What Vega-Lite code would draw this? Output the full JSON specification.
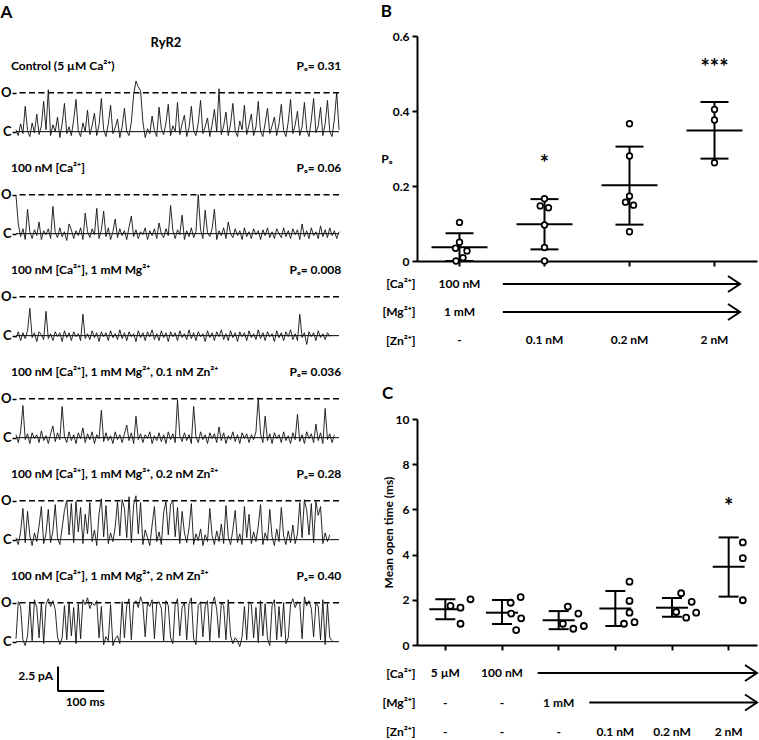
{
"$schema": "https://vega.github.io/schema/vega-lite/v6.json",
"padding": {"left": 0, "top": 3, "right": 0, "bottom": 0},
"background": "white",
"config": {
  "font": "Lato",
  "view": {"stroke": null},
  "axis": {"labelFont": "Lato", "labelFontWeight": "bold", "labelFontSize": 12, "labelColor": "black", "titleFont": "Lato", "titleFontWeight": "bold", "titleFontSize": 12, "titleColor": "black", "domainColor": "black", "tickColor": "black", "grid": false},
  "title": {"font": "Lato", "fontWeight": "bold", "fontSize": 17, "color": "black", "anchor": "start", "frame": "bounds"},
  "text": {"font": "Lato", "fontWeight": "bold", "fontSize": 12, "color": "black"}
},
"datasets": {
  "tr": [
{"c":1,"lab":"Control (5 µM Ca²⁺)","po":"Pₒ= 0.31"},
{"c":2,"lab":"100 nM [Ca²⁺]","po":"Pₒ= 0.06"},
{"c":3,"lab":"100 nM [Ca²⁺], 1 mM Mg²⁺","po":"Pₒ= 0.008"},
{"c":4,"lab":"100 nM [Ca²⁺], 1 mM Mg²⁺, 0.1 nM Zn²⁺","po":"Pₒ= 0.036"},
{"c":5,"lab":"100 nM [Ca²⁺], 1 mM Mg²⁺, 0.2 nM Zn²⁺","po":"Pₒ= 0.28"},
{"c":6,"lab":"100 nM [Ca²⁺], 1 mM Mg²⁺, 2 nM Zn²⁺","po":"Pₒ= 0.40","bar":"2.5 pA","bart":"100 ms"},
{"c":1,"t":0,"i":0.2},{"c":1,"t":5,"i":-0.4},{"c":1,"t":10,"i":0.8},{"c":1,"t":15,"i":-0.2},{"c":1,"t":20,"i":2.6},{"c":1,"t":25,"i":0.1},{"c":1,"t":30,"i":-0.5},{"c":1,"t":35,"i":0.9},{"c":1,"t":40,"i":-0.1},{"c":1,"t":45,"i":1.8},{"c":1,"t":50,"i":-0.3},{"c":1,"t":55,"i":0.6},{"c":1,"t":60,"i":3.1},{"c":1,"t":65,"i":0.2},{"c":1,"t":70,"i":4.3},{"c":1,"t":75,"i":-0.4},{"c":1,"t":80,"i":0.7},{"c":1,"t":85,"i":0.0},{"c":1,"t":90,"i":1.5},{"c":1,"t":95,"i":-0.6},{"c":1,"t":100,"i":0.8},{"c":1,"t":105,"i":2.9},{"c":1,"t":110,"i":-0.2},{"c":1,"t":115,"i":0.5},{"c":1,"t":120,"i":-0.4},{"c":1,"t":125,"i":1.2},{"c":1,"t":130,"i":3.3},{"c":1,"t":135,"i":0.1},{"c":1,"t":140,"i":-0.5},{"c":1,"t":145,"i":0.9},{"c":1,"t":150,"i":0.0},{"c":1,"t":155,"i":2.2},{"c":1,"t":160,"i":-0.3},{"c":1,"t":165,"i":0.6},{"c":1,"t":170,"i":1.9},{"c":1,"t":175,"i":-0.4},{"c":1,"t":180,"i":0.7},{"c":1,"t":185,"i":3.4},{"c":1,"t":190,"i":0.2},{"c":1,"t":195,"i":-0.5},{"c":1,"t":200,"i":0.8},{"c":1,"t":205,"i":2.7},{"c":1,"t":210,"i":-0.2},{"c":1,"t":215,"i":0.4},{"c":1,"t":220,"i":1.3},{"c":1,"t":225,"i":-0.6},{"c":1,"t":230,"i":0.5},{"c":1,"t":235,"i":2.4},{"c":1,"t":240,"i":0.0},{"c":1,"t":245,"i":-0.4},{"c":1,"t":250,"i":1.0},{"c":1,"t":255,"i":3.8},{"c":1,"t":260,"i":5.2},{"c":1,"t":265,"i":4.6},{"c":1,"t":270,"i":4.2},{"c":1,"t":275,"i":1.0},{"c":1,"t":280,"i":-0.6},{"c":1,"t":285,"i":0.3},{"c":1,"t":290,"i":-0.2},{"c":1,"t":295,"i":1.6},{"c":1,"t":300,"i":0.1},{"c":1,"t":305,"i":-0.5},{"c":1,"t":310,"i":2.5},{"c":1,"t":315,"i":0.3},{"c":1,"t":320,"i":-0.3},{"c":1,"t":325,"i":0.9},{"c":1,"t":330,"i":2.8},{"c":1,"t":335,"i":-0.4},{"c":1,"t":340,"i":0.6},{"c":1,"t":345,"i":0.0},{"c":1,"t":350,"i":3.0},{"c":1,"t":355,"i":-0.3},{"c":1,"t":360,"i":0.8},{"c":1,"t":365,"i":1.7},{"c":1,"t":370,"i":-0.5},{"c":1,"t":375,"i":0.4},{"c":1,"t":380,"i":2.6},{"c":1,"t":385,"i":0.1},{"c":1,"t":390,"i":-0.4},{"c":1,"t":395,"i":0.9},{"c":1,"t":400,"i":3.2},{"c":1,"t":405,"i":-0.2},{"c":1,"t":410,"i":0.5},{"c":1,"t":415,"i":1.4},{"c":1,"t":420,"i":-0.5},{"c":1,"t":425,"i":0.7},{"c":1,"t":430,"i":2.3},{"c":1,"t":435,"i":0.0},{"c":1,"t":440,"i":4.4},{"c":1,"t":445,"i":-0.3},{"c":1,"t":450,"i":0.6},{"c":1,"t":455,"i":2.0},{"c":1,"t":460,"i":-0.4},{"c":1,"t":465,"i":0.8},{"c":1,"t":470,"i":2.9},{"c":1,"t":475,"i":0.1},{"c":1,"t":480,"i":-0.5},{"c":1,"t":485,"i":1.1},{"c":1,"t":490,"i":0.2},{"c":1,"t":495,"i":2.7},{"c":1,"t":500,"i":-0.3},{"c":1,"t":505,"i":0.7},{"c":1,"t":510,"i":1.8},{"c":1,"t":515,"i":-0.4},{"c":1,"t":520,"i":0.5},{"c":1,"t":525,"i":3.1},{"c":1,"t":530,"i":0.0},{"c":1,"t":535,"i":-0.5},{"c":1,"t":540,"i":0.9},{"c":1,"t":545,"i":2.4},{"c":1,"t":550,"i":-0.2},{"c":1,"t":555,"i":0.6},{"c":1,"t":560,"i":1.5},{"c":1,"t":565,"i":-0.4},{"c":1,"t":570,"i":0.8},{"c":1,"t":575,"i":2.8},{"c":1,"t":580,"i":0.1},{"c":1,"t":585,"i":-0.5},{"c":1,"t":590,"i":1.0},{"c":1,"t":595,"i":3.3},{"c":1,"t":600,"i":-0.2},{"c":1,"t":605,"i":0.7},{"c":1,"t":610,"i":2.1},{"c":1,"t":615,"i":-0.4},{"c":1,"t":620,"i":0.5},{"c":1,"t":625,"i":3.0},{"c":1,"t":630,"i":0.2},{"c":1,"t":635,"i":-0.5},{"c":1,"t":640,"i":1.2},{"c":1,"t":645,"i":3.4},{"c":1,"t":650,"i":-0.1},{"c":1,"t":655,"i":0.6},{"c":1,"t":660,"i":2.5},{"c":1,"t":665,"i":-0.4},{"c":1,"t":670,"i":0.8},{"c":1,"t":675,"i":3.2},{"c":1,"t":680,"i":0.0},{"c":1,"t":685,"i":-0.5},{"c":1,"t":690,"i":1.3},{"c":1,"t":695,"i":4.0},{"c":1,"t":700,"i":0.2},
{"c":2,"t":0,"i":3.9},{"c":2,"t":5,"i":1.0},{"c":2,"t":10,"i":-0.3},{"c":2,"t":15,"i":0.5},{"c":2,"t":20,"i":-0.6},{"c":2,"t":25,"i":2.5},{"c":2,"t":30,"i":0.2},{"c":2,"t":35,"i":-0.5},{"c":2,"t":40,"i":0.4},{"c":2,"t":45,"i":-0.2},{"c":2,"t":50,"i":1.2},{"c":2,"t":55,"i":-0.6},{"c":2,"t":60,"i":0.3},{"c":2,"t":65,"i":-0.1},{"c":2,"t":70,"i":0.5},{"c":2,"t":75,"i":-0.5},{"c":2,"t":80,"i":2.8},{"c":2,"t":85,"i":0.1},{"c":2,"t":90,"i":-0.4},{"c":2,"t":95,"i":0.6},{"c":2,"t":100,"i":-0.3},{"c":2,"t":105,"i":0.2},{"c":2,"t":110,"i":-0.7},{"c":2,"t":115,"i":1.0},{"c":2,"t":120,"i":0.4},{"c":2,"t":125,"i":-0.5},{"c":2,"t":130,"i":0.3},{"c":2,"t":135,"i":-0.2},{"c":2,"t":140,"i":0.6},{"c":2,"t":145,"i":-0.6},{"c":2,"t":150,"i":2.1},{"c":2,"t":155,"i":0.2},{"c":2,"t":160,"i":-0.4},{"c":2,"t":165,"i":0.5},{"c":2,"t":170,"i":-0.1},{"c":2,"t":175,"i":2.6},{"c":2,"t":180,"i":-0.5},{"c":2,"t":185,"i":0.4},{"c":2,"t":190,"i":2.3},{"c":2,"t":195,"i":-0.3},{"c":2,"t":200,"i":0.6},{"c":2,"t":205,"i":-0.6},{"c":2,"t":210,"i":0.2},{"c":2,"t":215,"i":1.5},{"c":2,"t":220,"i":-0.4},{"c":2,"t":225,"i":0.5},{"c":2,"t":230,"i":-0.2},{"c":2,"t":235,"i":0.3},{"c":2,"t":240,"i":-0.6},{"c":2,"t":245,"i":0.7},{"c":2,"t":250,"i":1.8},{"c":2,"t":255,"i":-0.3},{"c":2,"t":260,"i":0.4},{"c":2,"t":265,"i":-0.5},{"c":2,"t":270,"i":0.2},{"c":2,"t":275,"i":-0.1},{"c":2,"t":280,"i":0.6},{"c":2,"t":285,"i":-0.6},{"c":2,"t":290,"i":0.3},{"c":2,"t":295,"i":-0.2},{"c":2,"t":300,"i":0.5},{"c":2,"t":305,"i":-0.5},{"c":2,"t":310,"i":1.1},{"c":2,"t":315,"i":0.0},{"c":2,"t":320,"i":-0.4},{"c":2,"t":325,"i":0.5},{"c":2,"t":330,"i":-0.2},{"c":2,"t":335,"i":2.9},{"c":2,"t":340,"i":0.3},{"c":2,"t":345,"i":-0.5},{"c":2,"t":350,"i":0.4},{"c":2,"t":355,"i":-0.1},{"c":2,"t":360,"i":1.9},{"c":2,"t":365,"i":-0.6},{"c":2,"t":370,"i":0.3},{"c":2,"t":375,"i":-0.3},{"c":2,"t":380,"i":0.6},{"c":2,"t":385,"i":-0.4},{"c":2,"t":390,"i":0.2},{"c":2,"t":395,"i":4.0},{"c":2,"t":400,"i":0.4},{"c":2,"t":405,"i":-0.5},{"c":2,"t":410,"i":2.4},{"c":2,"t":415,"i":0.1},{"c":2,"t":420,"i":-0.3},{"c":2,"t":425,"i":0.5},{"c":2,"t":430,"i":2.5},{"c":2,"t":435,"i":-0.6},{"c":2,"t":440,"i":0.3},{"c":2,"t":445,"i":-0.2},{"c":2,"t":450,"i":0.6},{"c":2,"t":455,"i":-0.5},{"c":2,"t":460,"i":1.2},{"c":2,"t":465,"i":0.0},{"c":2,"t":470,"i":-0.4},{"c":2,"t":475,"i":0.5},{"c":2,"t":480,"i":-0.2},{"c":2,"t":485,"i":0.3},{"c":2,"t":490,"i":-0.6},{"c":2,"t":495,"i":0.6},{"c":2,"t":500,"i":-0.3},{"c":2,"t":505,"i":0.2},{"c":2,"t":510,"i":-0.5},{"c":2,"t":515,"i":0.5},{"c":2,"t":520,"i":-0.1},{"c":2,"t":525,"i":0.3},{"c":2,"t":530,"i":-0.6},{"c":2,"t":535,"i":0.4},{"c":2,"t":540,"i":-0.2},{"c":2,"t":545,"i":0.6},{"c":2,"t":550,"i":-0.4},{"c":2,"t":555,"i":0.2},{"c":2,"t":560,"i":-0.5},{"c":2,"t":565,"i":0.5},{"c":2,"t":570,"i":0.0},{"c":2,"t":575,"i":-0.4},{"c":2,"t":580,"i":0.6},{"c":2,"t":585,"i":-0.3},{"c":2,"t":590,"i":0.3},{"c":2,"t":595,"i":-0.5},{"c":2,"t":600,"i":0.5},{"c":2,"t":605,"i":-0.1},{"c":2,"t":610,"i":0.4},{"c":2,"t":615,"i":-0.6},{"c":2,"t":620,"i":1.0},{"c":2,"t":625,"i":-0.3},{"c":2,"t":630,"i":0.3},{"c":2,"t":635,"i":-0.5},{"c":2,"t":640,"i":0.6},{"c":2,"t":645,"i":-0.2},{"c":2,"t":650,"i":0.2},{"c":2,"t":655,"i":-0.5},{"c":2,"t":660,"i":0.8},{"c":2,"t":665,"i":-0.3},{"c":2,"t":670,"i":0.4},{"c":2,"t":675,"i":-0.4},{"c":2,"t":680,"i":0.6},{"c":2,"t":685,"i":-0.2},{"c":2,"t":690,"i":0.3},{"c":2,"t":695,"i":-0.5},{"c":2,"t":700,"i":0.2},
{"c":3,"t":0,"i":-0.2},{"c":3,"t":5,"i":0.4},{"c":3,"t":10,"i":-0.5},{"c":3,"t":15,"i":0.3},{"c":3,"t":20,"i":-0.3},{"c":3,"t":25,"i":0.5},{"c":3,"t":30,"i":2.8},{"c":3,"t":35,"i":-0.2},{"c":3,"t":40,"i":0.3},{"c":3,"t":45,"i":-0.6},{"c":3,"t":50,"i":0.4},{"c":3,"t":55,"i":0.1},{"c":3,"t":60,"i":-0.4},{"c":3,"t":65,"i":2.5},{"c":3,"t":70,"i":-0.3},{"c":3,"t":75,"i":0.2},{"c":3,"t":80,"i":-0.5},{"c":3,"t":85,"i":0.4},{"c":3,"t":90,"i":-0.1},{"c":3,"t":95,"i":0.3},{"c":3,"t":100,"i":-0.6},{"c":3,"t":105,"i":0.5},{"c":3,"t":110,"i":-0.2},{"c":3,"t":115,"i":0.3},{"c":3,"t":120,"i":-0.5},{"c":3,"t":125,"i":0.4},{"c":3,"t":130,"i":-0.1},{"c":3,"t":135,"i":0.2},{"c":3,"t":140,"i":-0.5},{"c":3,"t":145,"i":2.2},{"c":3,"t":150,"i":-0.3},{"c":3,"t":155,"i":0.2},{"c":3,"t":160,"i":-0.4},{"c":3,"t":165,"i":0.5},{"c":3,"t":170,"i":-0.2},{"c":3,"t":175,"i":0.3},{"c":3,"t":180,"i":-0.6},{"c":3,"t":185,"i":0.4},{"c":3,"t":190,"i":-0.1},{"c":3,"t":195,"i":0.3},{"c":3,"t":200,"i":-0.5},{"c":3,"t":205,"i":0.5},{"c":3,"t":210,"i":-0.2},{"c":3,"t":215,"i":0.2},{"c":3,"t":220,"i":-0.4},{"c":3,"t":225,"i":0.6},{"c":3,"t":230,"i":-0.3},{"c":3,"t":235,"i":0.3},{"c":3,"t":240,"i":-0.5},{"c":3,"t":245,"i":0.4},{"c":3,"t":250,"i":-0.1},{"c":3,"t":255,"i":0.2},{"c":3,"t":260,"i":-0.6},{"c":3,"t":265,"i":0.5},{"c":3,"t":270,"i":-0.2},{"c":3,"t":275,"i":0.3},{"c":3,"t":280,"i":-0.5},{"c":3,"t":285,"i":0.4},{"c":3,"t":290,"i":-0.1},{"c":3,"t":295,"i":0.6},{"c":3,"t":300,"i":-0.4},{"c":3,"t":305,"i":0.2},{"c":3,"t":310,"i":-0.5},{"c":3,"t":315,"i":0.5},{"c":3,"t":320,"i":-0.2},{"c":3,"t":325,"i":0.3},{"c":3,"t":330,"i":-0.6},{"c":3,"t":335,"i":0.4},{"c":3,"t":340,"i":-0.1},{"c":3,"t":345,"i":0.3},{"c":3,"t":350,"i":-0.5},{"c":3,"t":355,"i":0.5},{"c":3,"t":360,"i":-0.2},{"c":3,"t":365,"i":0.2},{"c":3,"t":370,"i":-0.4},{"c":3,"t":375,"i":0.6},{"c":3,"t":380,"i":-0.3},{"c":3,"t":385,"i":0.3},{"c":3,"t":390,"i":-0.5},{"c":3,"t":395,"i":0.4},{"c":3,"t":400,"i":-0.1},{"c":3,"t":405,"i":0.2},{"c":3,"t":410,"i":-0.6},{"c":3,"t":415,"i":0.5},{"c":3,"t":420,"i":-0.2},{"c":3,"t":425,"i":0.3},{"c":3,"t":430,"i":-0.5},{"c":3,"t":435,"i":0.4},{"c":3,"t":440,"i":-0.1},{"c":3,"t":445,"i":0.6},{"c":3,"t":450,"i":-0.4},{"c":3,"t":455,"i":0.2},{"c":3,"t":460,"i":-0.5},{"c":3,"t":465,"i":0.5},{"c":3,"t":470,"i":-0.2},{"c":3,"t":475,"i":0.3},{"c":3,"t":480,"i":-0.6},{"c":3,"t":485,"i":0.4},{"c":3,"t":490,"i":-0.1},{"c":3,"t":495,"i":0.3},{"c":3,"t":500,"i":-0.5},{"c":3,"t":505,"i":0.5},{"c":3,"t":510,"i":-0.2},{"c":3,"t":515,"i":0.2},{"c":3,"t":520,"i":-0.4},{"c":3,"t":525,"i":0.6},{"c":3,"t":530,"i":-0.3},{"c":3,"t":535,"i":0.3},{"c":3,"t":540,"i":-0.5},{"c":3,"t":545,"i":0.4},{"c":3,"t":550,"i":-0.1},{"c":3,"t":555,"i":0.2},{"c":3,"t":560,"i":-0.6},{"c":3,"t":565,"i":0.5},{"c":3,"t":570,"i":-0.2},{"c":3,"t":575,"i":0.3},{"c":3,"t":580,"i":-0.5},{"c":3,"t":585,"i":0.4},{"c":3,"t":590,"i":-0.1},{"c":3,"t":595,"i":0.6},{"c":3,"t":600,"i":-0.4},{"c":3,"t":605,"i":0.2},{"c":3,"t":610,"i":-0.5},{"c":3,"t":615,"i":2.2},{"c":3,"t":620,"i":-0.2},{"c":3,"t":625,"i":0.3},{"c":3,"t":630,"i":-0.9},{"c":3,"t":635,"i":0.4},{"c":3,"t":640,"i":-0.1},{"c":3,"t":645,"i":0.3},{"c":3,"t":650,"i":-0.5},{"c":3,"t":655,"i":0.5},{"c":3,"t":660,"i":-0.2},{"c":3,"t":665,"i":0.2},{"c":3,"t":670,"i":-0.4},{"c":3,"t":675,"i":0.3},{"c":3,"t":680,"i":-0.1},
{"c":4,"t":0,"i":0.3},{"c":4,"t":5,"i":-0.5},{"c":4,"t":10,"i":0.6},{"c":4,"t":15,"i":3.3},{"c":4,"t":20,"i":-0.2},{"c":4,"t":25,"i":0.4},{"c":4,"t":30,"i":-0.6},{"c":4,"t":35,"i":0.5},{"c":4,"t":40,"i":-0.1},{"c":4,"t":45,"i":0.3},{"c":4,"t":50,"i":-0.5},{"c":4,"t":55,"i":0.7},{"c":4,"t":60,"i":-0.3},{"c":4,"t":65,"i":0.2},{"c":4,"t":70,"i":-0.6},{"c":4,"t":75,"i":0.4},{"c":4,"t":80,"i":1.2},{"c":4,"t":85,"i":-0.4},{"c":4,"t":90,"i":0.5},{"c":4,"t":95,"i":-0.2},{"c":4,"t":100,"i":3.2},{"c":4,"t":105,"i":0.1},{"c":4,"t":110,"i":-0.5},{"c":4,"t":115,"i":0.6},{"c":4,"t":120,"i":-0.3},{"c":4,"t":125,"i":0.3},{"c":4,"t":130,"i":-0.6},{"c":4,"t":135,"i":0.5},{"c":4,"t":140,"i":-0.1},{"c":4,"t":145,"i":1.0},{"c":4,"t":150,"i":-0.5},{"c":4,"t":155,"i":0.4},{"c":4,"t":160,"i":-0.2},{"c":4,"t":165,"i":0.6},{"c":4,"t":170,"i":-0.6},{"c":4,"t":175,"i":0.3},{"c":4,"t":180,"i":-0.1},{"c":4,"t":185,"i":2.8},{"c":4,"t":190,"i":-0.4},{"c":4,"t":195,"i":0.5},{"c":4,"t":200,"i":-0.3},{"c":4,"t":205,"i":0.2},{"c":4,"t":210,"i":-0.6},{"c":4,"t":215,"i":0.6},{"c":4,"t":220,"i":-0.2},{"c":4,"t":225,"i":0.3},{"c":4,"t":230,"i":-0.5},{"c":4,"t":235,"i":0.4},{"c":4,"t":240,"i":1.3},{"c":4,"t":245,"i":-0.3},{"c":4,"t":250,"i":0.5},{"c":4,"t":255,"i":-0.6},{"c":4,"t":260,"i":2.2},{"c":4,"t":265,"i":-0.2},{"c":4,"t":270,"i":0.4},{"c":4,"t":275,"i":-0.5},{"c":4,"t":280,"i":0.3},{"c":4,"t":285,"i":-0.1},{"c":4,"t":290,"i":0.6},{"c":4,"t":295,"i":-0.6},{"c":4,"t":300,"i":0.2},{"c":4,"t":305,"i":-0.3},{"c":4,"t":310,"i":0.5},{"c":4,"t":315,"i":-0.4},{"c":4,"t":320,"i":0.3},{"c":4,"t":325,"i":-0.6},{"c":4,"t":330,"i":0.6},{"c":4,"t":335,"i":-0.2},{"c":4,"t":340,"i":0.4},{"c":4,"t":345,"i":-0.5},{"c":4,"t":350,"i":3.9},{"c":4,"t":355,"i":0.2},{"c":4,"t":360,"i":-0.4},{"c":4,"t":365,"i":0.5},{"c":4,"t":370,"i":-0.3},{"c":4,"t":375,"i":0.3},{"c":4,"t":380,"i":-0.6},{"c":4,"t":385,"i":3.2},{"c":4,"t":390,"i":0.1},{"c":4,"t":395,"i":-0.5},{"c":4,"t":400,"i":0.6},{"c":4,"t":405,"i":-0.2},{"c":4,"t":410,"i":0.3},{"c":4,"t":415,"i":-0.6},{"c":4,"t":420,"i":0.5},{"c":4,"t":425,"i":-0.1},{"c":4,"t":430,"i":0.4},{"c":4,"t":435,"i":-0.5},{"c":4,"t":440,"i":1.1},{"c":4,"t":445,"i":-0.3},{"c":4,"t":450,"i":0.5},{"c":4,"t":455,"i":-0.6},{"c":4,"t":460,"i":0.2},{"c":4,"t":465,"i":-0.2},{"c":4,"t":470,"i":0.6},{"c":4,"t":475,"i":-0.4},{"c":4,"t":480,"i":0.3},{"c":4,"t":485,"i":-0.6},{"c":4,"t":490,"i":0.5},{"c":4,"t":495,"i":-0.1},{"c":4,"t":500,"i":0.4},{"c":4,"t":505,"i":-0.5},{"c":4,"t":510,"i":0.3},{"c":4,"t":515,"i":-0.2},{"c":4,"t":520,"i":0.6},{"c":4,"t":525,"i":4.1},{"c":4,"t":530,"i":0.4},{"c":4,"t":535,"i":-0.5},{"c":4,"t":540,"i":2.2},{"c":4,"t":545,"i":-0.3},{"c":4,"t":550,"i":0.4},{"c":4,"t":555,"i":-0.6},{"c":4,"t":560,"i":0.5},{"c":4,"t":565,"i":-0.1},{"c":4,"t":570,"i":0.3},{"c":4,"t":575,"i":-0.5},{"c":4,"t":580,"i":0.6},{"c":4,"t":585,"i":-0.3},{"c":4,"t":590,"i":0.2},{"c":4,"t":595,"i":-0.6},{"c":4,"t":600,"i":0.5},{"c":4,"t":605,"i":-0.2},{"c":4,"t":610,"i":2.4},{"c":4,"t":615,"i":-0.4},{"c":4,"t":620,"i":0.3},{"c":4,"t":625,"i":-0.6},{"c":4,"t":630,"i":0.6},{"c":4,"t":635,"i":-0.1},{"c":4,"t":640,"i":0.4},{"c":4,"t":645,"i":-0.5},{"c":4,"t":650,"i":1.4},{"c":4,"t":655,"i":-0.3},{"c":4,"t":660,"i":0.5},{"c":4,"t":665,"i":-0.6},{"c":4,"t":670,"i":3.0},{"c":4,"t":675,"i":-0.2},{"c":4,"t":680,"i":0.4},{"c":4,"t":685,"i":-0.5},{"c":4,"t":690,"i":0.3},
{"c":5,"t":0,"i":0.2},{"c":5,"t":5,"i":-0.5},{"c":5,"t":10,"i":0.8},{"c":5,"t":15,"i":3.2},{"c":5,"t":20,"i":-0.3},{"c":5,"t":25,"i":2.9},{"c":5,"t":30,"i":0.4},{"c":5,"t":35,"i":-0.6},{"c":5,"t":40,"i":0.7},{"c":5,"t":45,"i":-0.2},{"c":5,"t":50,"i":1.4},{"c":5,"t":55,"i":3.4},{"c":5,"t":60,"i":-0.4},{"c":5,"t":65,"i":0.6},{"c":5,"t":70,"i":3.1},{"c":5,"t":75,"i":-0.3},{"c":5,"t":80,"i":0.9},{"c":5,"t":85,"i":3.6},{"c":5,"t":90,"i":0.2},{"c":5,"t":95,"i":-0.5},{"c":5,"t":100,"i":1.2},{"c":5,"t":105,"i":3.0},{"c":5,"t":110,"i":4.0},{"c":5,"t":115,"i":0.5},{"c":5,"t":120,"i":3.7},{"c":5,"t":125,"i":-0.3},{"c":5,"t":130,"i":3.9},{"c":5,"t":135,"i":0.8},{"c":5,"t":140,"i":3.3},{"c":5,"t":145,"i":-0.4},{"c":5,"t":150,"i":2.6},{"c":5,"t":155,"i":0.6},{"c":5,"t":160,"i":3.8},{"c":5,"t":165,"i":-0.2},{"c":5,"t":170,"i":1.0},{"c":5,"t":175,"i":-0.6},{"c":5,"t":180,"i":2.7},{"c":5,"t":185,"i":4.2},{"c":5,"t":190,"i":0.3},{"c":5,"t":195,"i":3.5},{"c":5,"t":200,"i":-0.4},{"c":5,"t":205,"i":0.7},{"c":5,"t":210,"i":-0.2},{"c":5,"t":215,"i":1.3},{"c":5,"t":220,"i":3.9},{"c":5,"t":225,"i":0.4},{"c":5,"t":230,"i":4.1},{"c":5,"t":235,"i":3.2},{"c":5,"t":240,"i":0.2},{"c":5,"t":245,"i":4.4},{"c":5,"t":250,"i":-0.3},{"c":5,"t":255,"i":3.6},{"c":5,"t":260,"i":4.5},{"c":5,"t":265,"i":0.6},{"c":5,"t":270,"i":3.8},{"c":5,"t":275,"i":-0.5},{"c":5,"t":280,"i":1.0},{"c":5,"t":285,"i":0.2},{"c":5,"t":290,"i":-0.6},{"c":5,"t":295,"i":1.5},{"c":5,"t":300,"i":3.4},{"c":5,"t":305,"i":-0.2},{"c":5,"t":310,"i":0.8},{"c":5,"t":315,"i":-0.5},{"c":5,"t":320,"i":2.8},{"c":5,"t":325,"i":3.9},{"c":5,"t":330,"i":0.5},{"c":5,"t":335,"i":3.6},{"c":5,"t":340,"i":4.0},{"c":5,"t":345,"i":0.3},{"c":5,"t":350,"i":3.3},{"c":5,"t":355,"i":-0.4},{"c":5,"t":360,"i":2.9},{"c":5,"t":365,"i":0.7},{"c":5,"t":370,"i":-0.3},{"c":5,"t":375,"i":1.2},{"c":5,"t":380,"i":3.7},{"c":5,"t":385,"i":-0.5},{"c":5,"t":390,"i":0.6},{"c":5,"t":395,"i":-0.1},{"c":5,"t":400,"i":1.1},{"c":5,"t":405,"i":-0.6},{"c":5,"t":410,"i":0.5},{"c":5,"t":415,"i":-0.2},{"c":5,"t":420,"i":3.2},{"c":5,"t":425,"i":0.4},{"c":5,"t":430,"i":-0.5},{"c":5,"t":435,"i":0.9},{"c":5,"t":440,"i":-0.2},{"c":5,"t":445,"i":1.6},{"c":5,"t":450,"i":-0.4},{"c":5,"t":455,"i":3.5},{"c":5,"t":460,"i":0.3},{"c":5,"t":465,"i":-0.5},{"c":5,"t":470,"i":1.0},{"c":5,"t":475,"i":3.0},{"c":5,"t":480,"i":-0.3},{"c":5,"t":485,"i":0.6},{"c":5,"t":490,"i":-0.5},{"c":5,"t":495,"i":3.4},{"c":5,"t":500,"i":0.2},{"c":5,"t":505,"i":2.6},{"c":5,"t":510,"i":-0.4},{"c":5,"t":515,"i":0.8},{"c":5,"t":520,"i":-0.2},{"c":5,"t":525,"i":1.4},{"c":5,"t":530,"i":3.6},{"c":5,"t":535,"i":-0.5},{"c":5,"t":540,"i":0.7},{"c":5,"t":545,"i":-0.1},{"c":5,"t":550,"i":3.1},{"c":5,"t":555,"i":0.3},{"c":5,"t":560,"i":-0.6},{"c":5,"t":565,"i":1.1},{"c":5,"t":570,"i":-0.2},{"c":5,"t":575,"i":3.3},{"c":5,"t":580,"i":0.4},{"c":5,"t":585,"i":-0.5},{"c":5,"t":590,"i":0.9},{"c":5,"t":595,"i":-0.3},{"c":5,"t":600,"i":1.5},{"c":5,"t":605,"i":-0.4},{"c":5,"t":610,"i":0.6},{"c":5,"t":615,"i":3.8},{"c":5,"t":620,"i":0.2},{"c":5,"t":625,"i":4.1},{"c":5,"t":630,"i":3.0},{"c":5,"t":635,"i":0.5},{"c":5,"t":640,"i":3.7},{"c":5,"t":645,"i":-0.3},{"c":5,"t":650,"i":3.9},{"c":5,"t":655,"i":2.5},{"c":5,"t":660,"i":3.4},{"c":5,"t":665,"i":-0.4},{"c":5,"t":670,"i":0.7},{"c":5,"t":675,"i":-0.2},{"c":5,"t":680,"i":0.5},
{"c":6,"t":0,"i":0.3},{"c":6,"t":5,"i":4.1},{"c":6,"t":10,"i":3.6},{"c":6,"t":15,"i":0.2},{"c":6,"t":20,"i":-0.4},{"c":6,"t":25,"i":0.6},{"c":6,"t":30,"i":3.9},{"c":6,"t":35,"i":0.1},{"c":6,"t":40,"i":4.3},{"c":6,"t":45,"i":3.5},{"c":6,"t":50,"i":0.4},{"c":6,"t":55,"i":4.0},{"c":6,"t":60,"i":-0.2},{"c":6,"t":65,"i":3.8},{"c":6,"t":70,"i":4.4},{"c":6,"t":75,"i":3.6},{"c":6,"t":80,"i":4.2},{"c":6,"t":85,"i":3.3},{"c":6,"t":90,"i":0.5},{"c":6,"t":95,"i":-0.3},{"c":6,"t":100,"i":0.4},{"c":6,"t":105,"i":3.7},{"c":6,"t":110,"i":0.2},{"c":6,"t":115,"i":4.1},{"c":6,"t":120,"i":0.6},{"c":6,"t":125,"i":3.5},{"c":6,"t":130,"i":-0.2},{"c":6,"t":135,"i":3.9},{"c":6,"t":140,"i":0.3},{"c":6,"t":145,"i":4.3},{"c":6,"t":150,"i":3.8},{"c":6,"t":155,"i":4.5},{"c":6,"t":160,"i":3.4},{"c":6,"t":165,"i":4.0},{"c":6,"t":170,"i":3.7},{"c":6,"t":175,"i":4.2},{"c":6,"t":180,"i":0.4},{"c":6,"t":185,"i":3.6},{"c":6,"t":190,"i":-0.3},{"c":6,"t":195,"i":0.5},{"c":6,"t":200,"i":0.1},{"c":6,"t":205,"i":3.8},{"c":6,"t":210,"i":-0.4},{"c":6,"t":215,"i":0.3},{"c":6,"t":220,"i":0.6},{"c":6,"t":225,"i":-0.2},{"c":6,"t":230,"i":4.1},{"c":6,"t":235,"i":0.4},{"c":6,"t":240,"i":3.7},{"c":6,"t":245,"i":4.4},{"c":6,"t":250,"i":0.2},{"c":6,"t":255,"i":3.9},{"c":6,"t":260,"i":4.2},{"c":6,"t":265,"i":3.5},{"c":6,"t":270,"i":4.6},{"c":6,"t":275,"i":3.8},{"c":6,"t":280,"i":0.5},{"c":6,"t":285,"i":4.0},{"c":6,"t":290,"i":3.6},{"c":6,"t":295,"i":4.3},{"c":6,"t":300,"i":0.3},{"c":6,"t":305,"i":3.9},{"c":6,"t":310,"i":4.1},{"c":6,"t":315,"i":3.4},{"c":6,"t":320,"i":0.1},{"c":6,"t":325,"i":4.2},{"c":6,"t":330,"i":3.7},{"c":6,"t":335,"i":0.4},{"c":6,"t":340,"i":-0.2},{"c":6,"t":345,"i":3.8},{"c":6,"t":350,"i":4.4},{"c":6,"t":355,"i":0.6},{"c":6,"t":360,"i":3.5},{"c":6,"t":365,"i":4.0},{"c":6,"t":370,"i":0.2},{"c":6,"t":375,"i":3.9},{"c":6,"t":380,"i":4.5},{"c":6,"t":385,"i":0.3},{"c":6,"t":390,"i":-0.3},{"c":6,"t":395,"i":3.7},{"c":6,"t":400,"i":4.1},{"c":6,"t":405,"i":0.5},{"c":6,"t":410,"i":3.6},{"c":6,"t":415,"i":4.2},{"c":6,"t":420,"i":0.1},{"c":6,"t":425,"i":3.8},{"c":6,"t":430,"i":4.6},{"c":6,"t":435,"i":3.3},{"c":6,"t":440,"i":0.4},{"c":6,"t":445,"i":4.0},{"c":6,"t":450,"i":3.7},{"c":6,"t":455,"i":0.2},{"c":6,"t":460,"i":4.3},{"c":6,"t":465,"i":0.6},{"c":6,"t":470,"i":-0.2},{"c":6,"t":475,"i":0.4},{"c":6,"t":480,"i":0.1},{"c":6,"t":485,"i":-0.5},{"c":6,"t":490,"i":0.5},{"c":6,"t":495,"i":3.6},{"c":6,"t":500,"i":0.2},{"c":6,"t":505,"i":4.1},{"c":6,"t":510,"i":3.8},{"c":6,"t":515,"i":0.4},{"c":6,"t":520,"i":3.5},{"c":6,"t":525,"i":-0.1},{"c":6,"t":530,"i":4.2},{"c":6,"t":535,"i":0.6},{"c":6,"t":540,"i":3.9},{"c":6,"t":545,"i":0.3},{"c":6,"t":550,"i":-0.4},{"c":6,"t":555,"i":3.7},{"c":6,"t":560,"i":4.3},{"c":6,"t":565,"i":0.2},{"c":6,"t":570,"i":3.6},{"c":6,"t":575,"i":0.5},{"c":6,"t":580,"i":4.0},{"c":6,"t":585,"i":-0.2},{"c":6,"t":590,"i":0.4},{"c":6,"t":595,"i":3.8},{"c":6,"t":600,"i":4.4},{"c":6,"t":605,"i":3.5},{"c":6,"t":610,"i":4.1},{"c":6,"t":615,"i":3.9},{"c":6,"t":620,"i":0.3},{"c":6,"t":625,"i":4.6},{"c":6,"t":630,"i":3.7},{"c":6,"t":635,"i":4.2},{"c":6,"t":640,"i":3.4},{"c":6,"t":645,"i":0.5},{"c":6,"t":650,"i":4.0},{"c":6,"t":655,"i":3.6},{"c":6,"t":660,"i":0.2},{"c":6,"t":665,"i":4.3},{"c":6,"t":670,"i":-0.3},{"c":6,"t":675,"i":3.9},{"c":6,"t":680,"i":0.4},{"c":6,"t":685,"i":0.1}
  ],
  "bpts": [
    {"g":"1","v":0.103,"j":0},{"g":"1","v":0.05,"j":0},{"g":"1","v":0.034,"j":-0.4},{"g":"1","v":0.027,"j":0.75},{"g":"1","v":0.009,"j":0.35},{"g":"1","v":0.0,"j":-0.35},
    {"g":"2","v":0.166,"j":0},{"g":"2","v":0.147,"j":-0.43},{"g":"2","v":0.142,"j":0.4},{"g":"2","v":0.096,"j":0},{"g":"2","v":0.036,"j":0},{"g":"2","v":0.0,"j":0},
    {"g":"3","v":0.366,"j":0},{"g":"3","v":0.28,"j":0},{"g":"3","v":0.173,"j":0},{"g":"3","v":0.157,"j":-0.4},{"g":"3","v":0.149,"j":0.4},{"g":"3","v":0.078,"j":0},
    {"g":"4","v":0.404,"j":0},{"g":"4","v":0.376,"j":0},{"g":"4","v":0.262,"j":0}
  ],
  "bstat": [
    {"g":"1","m":0.037,"lo":0.0,"hi":0.074},
    {"g":"2","m":0.098,"lo":0.031,"hi":0.165},
    {"g":"3","m":0.202,"lo":0.097,"hi":0.305},
    {"g":"4","m":0.348,"lo":0.273,"hi":0.424}
  ],
  "bstar": [{"g":"2","v":0.27,"s":"*"},{"g":"4","v":0.526,"s":"***"}],
  "btxt": [
    {"row":"[Ca²⁺]","g":1,"s":"100 nM"},{"row":"[Mg²⁺]","g":1,"s":"1 mM"},
    {"row":"[Zn²⁺]","g":1,"s":"-"},{"row":"[Zn²⁺]","g":2,"s":"0.1 nM"},{"row":"[Zn²⁺]","g":3,"s":"0.2 nM"},{"row":"[Zn²⁺]","g":4,"s":"2 nM"}
  ],
  "barr": [{"row":"[Ca²⁺]","a":1.51,"b":4.3},{"row":"[Mg²⁺]","a":1.51,"b":4.3}],
  "cpts": [
    {"g":"1","v":2.02,"j":1.1},{"g":"1","v":1.73,"j":-0.9},{"g":"1","v":1.65,"j":0.1},{"g":"1","v":0.94,"j":0.1},
    {"g":"2","v":2.12,"j":0.45},{"g":"2","v":1.87,"j":-0.55},{"g":"2","v":1.39,"j":-0.5},{"g":"2","v":1.18,"j":0.5},{"g":"2","v":0.66,"j":0},
    {"g":"3","v":1.7,"j":-0.5},{"g":"3","v":1.39,"j":0.55},{"g":"3","v":0.94,"j":-1.0},{"g":"3","v":0.72,"j":0.05},{"g":"3","v":0.84,"j":1.1},
    {"g":"4","v":2.8,"j":0},{"g":"4","v":1.95,"j":0},{"g":"4","v":1.43,"j":0},{"g":"4","v":0.94,"j":-0.55},{"g":"4","v":1.01,"j":0.5},
    {"g":"5","v":2.29,"j":-0.5},{"g":"5","v":1.91,"j":0.55},{"g":"5","v":1.46,"j":-1.0},{"g":"5","v":1.21,"j":0},{"g":"5","v":1.43,"j":1.0},
    {"g":"6","v":4.54,"j":0},{"g":"6","v":3.84,"j":0},{"g":"6","v":1.98,"j":0}
  ],
  "cstat": [
    {"g":"1","m":1.58,"lo":1.14,"hi":2.02},
    {"g":"2","m":1.43,"lo":0.93,"hi":1.99},
    {"g":"3","m":1.09,"lo":0.7,"hi":1.5},
    {"g":"4","m":1.61,"lo":0.84,"hi":2.39},
    {"g":"5","m":1.65,"lo":1.25,"hi":2.08},
    {"g":"6","m":3.46,"lo":2.14,"hi":4.76}
  ],
  "cstar": [{"g":"6","v":6.3,"s":"*"}],
  "ctxt": [
    {"row":"[Ca²⁺]","g":1,"s":"5 µM"},{"row":"[Ca²⁺]","g":2,"s":"100 nM"},
    {"row":"[Mg²⁺]","g":1,"s":"-"},{"row":"[Mg²⁺]","g":2,"s":"-"},{"row":"[Mg²⁺]","g":3,"s":"1 mM"},
    {"row":"[Zn²⁺]","g":1,"s":"-"},{"row":"[Zn²⁺]","g":2,"s":"-"},{"row":"[Zn²⁺]","g":3,"s":"-"},{"row":"[Zn²⁺]","g":4,"s":"0.1 nM"},{"row":"[Zn²⁺]","g":5,"s":"0.2 nM"},{"row":"[Zn²⁺]","g":6,"s":"2 nM"}
  ],
  "carr": [{"row":"[Ca²⁺]","a":2.63,"b":6.5},{"row":"[Mg²⁺]","a":3.54,"b":6.5}]
},
"spacing": 38,
"hconcat": [
  {
    "title": {"text": "A", "offset": 14},
    "bounds": "flush",
    "spacing": 0,
    "vconcat": [
      {
        "width": 323,
        "height": 20,
        "data": {"values": [{"k": "RyR2"}]},
        "mark": {"type": "text", "fontSize": 13, "baseline": "middle"},
        "encoding": {
          "x": {"datum": 325, "type": "quantitative", "scale": {"domain": [0, 700], "nice": false, "zero": false}, "axis": null},
          "y": {"datum": 0.65, "type": "quantitative", "scale": {"domain": [0, 1], "nice": false}, "axis": null},
          "text": {"field": "k"}
        }
      },
      {
        "data": {"name": "tr"},
        "bounds": "flush",
        "facet": {"row": {"field": "c", "type": "ordinal", "title": null, "header": {"labels": false, "title": null}}},
        "spacing": {"row": 0},
        "spec": {
          "width": 323,
          "height": 102,
          "layer": [
            {"transform": [{"filter": "datum.lab != null"}], "mark": {"type": "rule", "strokeDash": [6, 3.5], "strokeWidth": 1.5, "color": "black"}, "encoding": {"y": {"datum": 4, "type": "quantitative"}}},
            {"transform": [{"filter": "datum.lab != null"}], "mark": {"type": "rule", "strokeWidth": 1, "color": "black"}, "encoding": {"y": {"datum": 0, "type": "quantitative"}}},
            {"transform": [{"filter": "isValid(datum.t)"}], "mark": {"type": "line", "color": "#111111", "strokeWidth": 0.9},
             "encoding": {
               "x": {"field": "t", "type": "quantitative", "scale": {"domain": [0, 700], "nice": false, "zero": false}, "axis": null},
               "y": {"field": "i", "type": "quantitative", "scale": {"domain": [-2.7, 7.76], "nice": false, "zero": false},
                     "axis": {"values": [0, 4], "labelExpr": "datum.value == 0 ? 'C' : 'O'", "domain": false, "tickSize": 4, "tickWidth": 1.5, "labelFontSize": 13, "labelPadding": 1, "title": null}}
             }},
            {"transform": [{"filter": "datum.lab != null"}], "mark": {"type": "text", "align": "left", "baseline": "middle"}, "encoding": {"x": {"datum": -11, "type": "quantitative"}, "y": {"datum": 6.7, "type": "quantitative"}, "text": {"field": "lab"}}},
            {"transform": [{"filter": "datum.lab != null"}], "mark": {"type": "text", "align": "right", "baseline": "middle"}, "encoding": {"x": {"datum": 705, "type": "quantitative"}, "y": {"datum": 6.7, "type": "quantitative"}, "text": {"field": "po"}}},
            {"transform": [{"filter": "datum.bar != null"}], "mark": {"type": "rule", "strokeWidth": 2, "color": "black"}, "encoding": {"x": {"datum": 91, "type": "quantitative"}, "y": {"datum": -2.55, "type": "quantitative"}, "y2": {"datum": -5.05}}},
            {"transform": [{"filter": "datum.bar != null"}], "mark": {"type": "rule", "strokeWidth": 2, "color": "black"}, "encoding": {"x": {"datum": 90, "type": "quantitative"}, "x2": {"datum": 191}, "y": {"datum": -5.05, "type": "quantitative"}}},
            {"transform": [{"filter": "datum.bar != null"}], "mark": {"type": "text", "align": "right", "baseline": "middle", "dx": -5}, "encoding": {"x": {"datum": 91, "type": "quantitative"}, "y": {"datum": -3.5, "type": "quantitative"}, "text": {"field": "bar"}}},
            {"transform": [{"filter": "datum.bar != null"}], "mark": {"type": "text", "align": "center", "baseline": "middle"}, "encoding": {"x": {"datum": 150, "type": "quantitative"}, "y": {"datum": -6.15, "type": "quantitative"}, "text": {"field": "bart"}}}
          ]
        }
      }
    ]
  },
  {
    "title": {"text": "B", "offset": 9},
    "bounds": "flush",
    "spacing": 14,
    "vconcat": [
      {
        "width": 340,
        "height": 225,
        "layer": [
          {"data": {"name": "bstat"}, "mark": {"type": "rule", "strokeWidth": 2, "color": "black"},
           "encoding": {
             "x": {"field": "g", "type": "ordinal", "scale": {"type": "band", "domain": ["1", "2", "3", "4"], "paddingInner": 0, "paddingOuter": 0}, "axis": {"labels": false, "title": null, "domainWidth": 2, "tickWidth": 2, "tickSize": 5}},
             "y": {"field": "lo", "type": "quantitative", "scale": {"domain": [0, 0.6], "nice": false}, "axis": {"values": [0, 0.2, 0.4, 0.6], "format": ".1~f", "domainWidth": 2, "tickWidth": 2, "tickSize": 5, "labelPadding": 3, "title": "Pₒ", "titleAngle": 0, "titleAlign": "right", "titleBaseline": "middle", "titleX": -25, "titleY": 122}},
             "y2": {"field": "hi"}
           }},
          {"data": {"name": "bstat"}, "mark": {"type": "tick", "size": 56, "thickness": 2, "color": "black", "opacity": 1}, "encoding": {"x": {"field": "g", "type": "ordinal"}, "y": {"field": "m", "type": "quantitative"}}},
          {"data": {"name": "bstat"}, "mark": {"type": "tick", "size": 28, "thickness": 2, "color": "black", "opacity": 1}, "encoding": {"x": {"field": "g", "type": "ordinal"}, "y": {"field": "lo", "type": "quantitative"}}},
          {"data": {"name": "bstat"}, "mark": {"type": "tick", "size": 28, "thickness": 2, "color": "black", "opacity": 1}, "encoding": {"x": {"field": "g", "type": "ordinal"}, "y": {"field": "hi", "type": "quantitative"}}},
          {"data": {"name": "bpts"}, "mark": {"type": "point", "filled": true, "fill": "white", "stroke": "black", "strokeWidth": 1.7, "size": 32, "opacity": 1},
           "encoding": {"x": {"field": "g", "type": "ordinal"}, "xOffset": {"field": "j", "type": "quantitative", "scale": {"domain": [-1, 1], "range": [32.5, 52.5]}}, "y": {"field": "v", "type": "quantitative"}}},
          {"data": {"name": "bstar"}, "mark": {"type": "text", "fontSize": 22, "fontWeight": "bold", "baseline": "middle", "dy": 4}, "encoding": {"x": {"field": "g", "type": "ordinal"}, "y": {"field": "v", "type": "quantitative"}, "text": {"field": "s"}}}
        ]
      },
      {
        "width": 340,
        "height": 130,
        "layer": [
          {"data": {"name": "btxt"}, "mark": {"type": "text", "baseline": "middle", "align": "center"},
           "encoding": {
             "x": {"field": "g", "type": "quantitative", "scale": {"domain": [0.5, 4.5], "nice": false, "zero": false}, "axis": null},
             "y": {"field": "row", "type": "nominal", "scale": {"type": "point", "domain": ["[Ca²⁺]", "[Mg²⁺]", "[Zn²⁺]", "r4", "r5"], "padding": 0.32}, "axis": {"title": null, "domain": false, "ticks": false, "labelPadding": 2, "labelExpr": "indexof(datum.value, '[') == 0 ? datum.value : ''"}},
             "text": {"field": "s"}
           }},
          {"data": {"name": "barr"}, "mark": {"type": "rule", "strokeWidth": 2, "color": "black"}, "encoding": {"x": {"field": "a", "type": "quantitative"}, "x2": {"field": "b"}, "y": {"field": "row", "type": "nominal"}}},
          {"data": {"name": "barr"}, "mark": {"type": "point", "shape": "M-1.5,-1L0,0L-1.5,1", "filled": false, "color": "black", "strokeWidth": 2, "size": 256, "opacity": 1}, "encoding": {"x": {"field": "b", "type": "quantitative"}, "y": {"field": "row", "type": "nominal"}}}
        ]
      },
      {
        "title": {"text": "C", "offset": 10},
        "width": 340,
        "height": 226,
        "layer": [
          {"data": {"name": "cstat"}, "mark": {"type": "rule", "strokeWidth": 2, "color": "black"},
           "encoding": {
             "x": {"field": "g", "type": "ordinal", "scale": {"type": "band", "domain": ["1", "2", "3", "4", "5", "6"], "paddingInner": 0, "paddingOuter": 0}, "axis": {"labels": false, "title": null, "domainWidth": 2, "tickWidth": 2, "tickSize": 5}},
             "y": {"field": "lo", "type": "quantitative", "scale": {"domain": [0, 10], "nice": false}, "axis": {"values": [0, 2, 4, 6, 8, 10], "domainWidth": 2, "tickWidth": 2, "tickSize": 5, "labelPadding": 3, "title": "Mean open time (ms)", "titlePadding": 0}},
             "y2": {"field": "hi"}
           }},
          {"data": {"name": "cstat"}, "mark": {"type": "tick", "size": 32, "thickness": 2, "color": "black", "opacity": 1}, "encoding": {"x": {"field": "g", "type": "ordinal"}, "y": {"field": "m", "type": "quantitative"}}},
          {"data": {"name": "cstat"}, "mark": {"type": "tick", "size": 20, "thickness": 2, "color": "black", "opacity": 1}, "encoding": {"x": {"field": "g", "type": "ordinal"}, "y": {"field": "lo", "type": "quantitative"}}},
          {"data": {"name": "cstat"}, "mark": {"type": "tick", "size": 20, "thickness": 2, "color": "black", "opacity": 1}, "encoding": {"x": {"field": "g", "type": "ordinal"}, "y": {"field": "hi", "type": "quantitative"}}},
          {"data": {"name": "cpts"}, "mark": {"type": "point", "filled": true, "fill": "white", "stroke": "black", "strokeWidth": 1.8, "size": 36, "opacity": 1},
           "encoding": {"x": {"field": "g", "type": "ordinal"}, "xOffset": {"field": "j", "type": "quantitative", "scale": {"domain": [-1, 1], "range": [18.3, 38.3]}}, "y": {"field": "v", "type": "quantitative"}}},
          {"data": {"name": "cstar"}, "mark": {"type": "text", "fontSize": 22, "fontWeight": "bold", "baseline": "middle", "dy": 4}, "encoding": {"x": {"field": "g", "type": "ordinal"}, "y": {"field": "v", "type": "quantitative"}, "text": {"field": "s"}}}
        ]
      },
      {
        "width": 340,
        "height": 87,
        "layer": [
          {"data": {"name": "ctxt"}, "mark": {"type": "text", "baseline": "middle", "align": "center"},
           "encoding": {
             "x": {"field": "g", "type": "quantitative", "scale": {"domain": [0.5, 6.5], "nice": false, "zero": false}, "axis": null},
             "y": {"field": "row", "type": "nominal", "scale": {"type": "point", "domain": ["[Ca²⁺]", "[Mg²⁺]", "[Zn²⁺]"], "padding": 0.475}, "axis": {"title": null, "domain": false, "ticks": false, "labelPadding": 2}},
             "text": {"field": "s"}
           }},
          {"data": {"name": "carr"}, "mark": {"type": "rule", "strokeWidth": 2, "color": "black"}, "encoding": {"x": {"field": "a", "type": "quantitative"}, "x2": {"field": "b"}, "y": {"field": "row", "type": "nominal"}}},
          {"data": {"name": "carr"}, "mark": {"type": "point", "shape": "M-1.5,-1L0,0L-1.5,1", "filled": false, "color": "black", "strokeWidth": 2, "size": 256, "opacity": 1}, "encoding": {"x": {"field": "b", "type": "quantitative"}, "y": {"field": "row", "type": "nominal"}}}
        ]
      }
    ]
  }
]
}
